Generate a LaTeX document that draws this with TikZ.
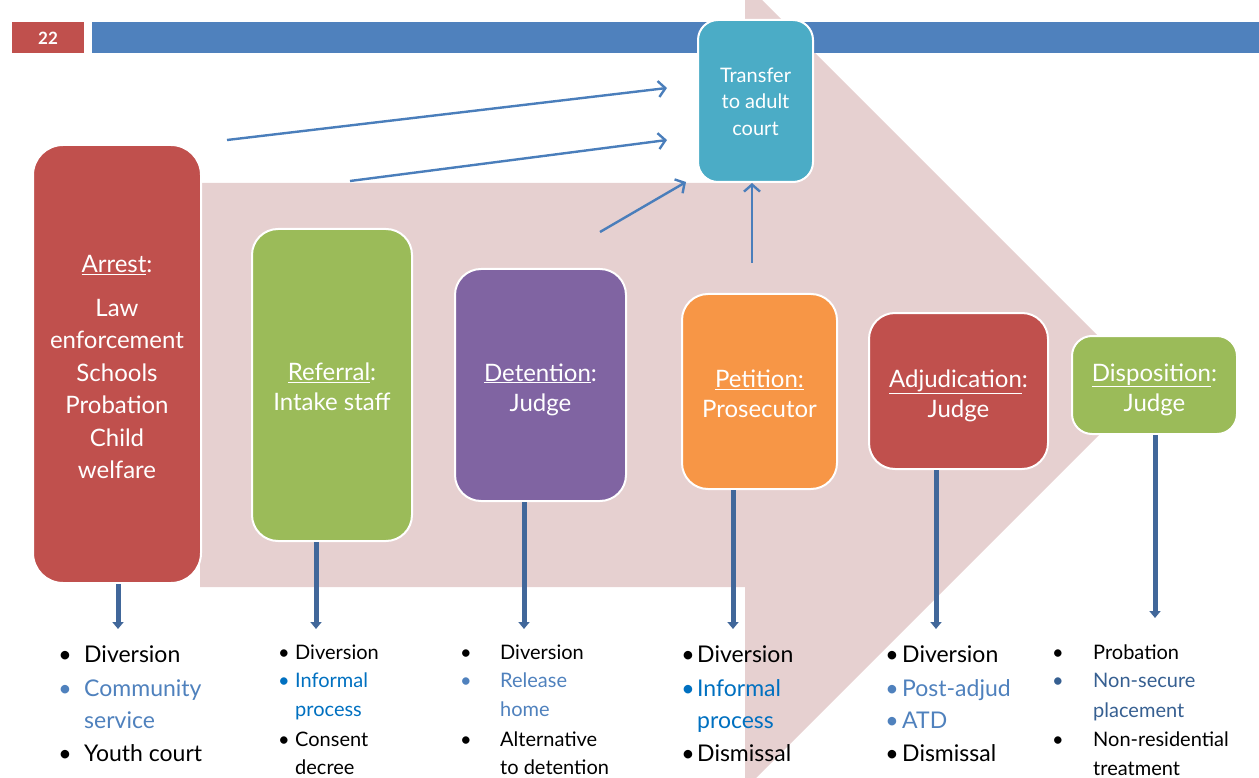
\documentclass[tikz,border=0pt]{standalone}
\usepackage{fontspec}
\setmainfont{Lato}
\usetikzlibrary{arrows.meta}
\definecolor{pinkbg}{RGB}{230,208,208}
\definecolor{redbox}{RGB}{192,80,77}
\definecolor{greenbox}{RGB}{155,187,89}
\definecolor{purplebox}{RGB}{128,100,162}
\definecolor{orangebox}{RGB}{247,150,70}
\definecolor{tealbox}{RGB}{75,172,198}
\definecolor{barblue}{RGB}{79,129,189}
\definecolor{linkblue}{RGB}{74,126,187}
\definecolor{downblue}{RGB}{65,103,154}
\definecolor{lightblue}{RGB}{79,129,189}
\definecolor{brightblue}{RGB}{0,112,192}
\definecolor{darkblue}{RGB}{54,95,145}
\begin{document}
\begin{tikzpicture}[x=1pt,y=-1pt,
  stage/.style={draw=white, line width=2pt, rounded corners=26pt, inner sep=0pt},
  stagetext/.style={text=white, inner sep=0pt, align=center, font=\fontsize{24}{30}\selectfont},
  toT/.style={linkblue, line width=2.4pt, -{Straight Barb[length=7pt,width=16pt]}},
  down/.style={downblue, line width=5pt, -{Triangle[length=7pt,width=11pt]}},
  big/.style={anchor=mid west, inner sep=0pt, font=\fontsize{23}{23}\selectfont},
  small/.style={anchor=mid west, inner sep=0pt, font=\fontsize{20}{20}\selectfont},
  bigb/.style={anchor=mid, inner sep=0pt, font=\fontsize{23}{23}\selectfont},
  smallb/.style={anchor=mid, inner sep=0pt, font=\fontsize{20}{20}\selectfont}
]
\useasboundingbox (0,0) rectangle (1259,778);
\begin{scope}
\clip (0,0) rectangle (1259,778);
% big pink process arrow
\fill[pinkbg] (200,183) -- (745,183) -- (745,-17) -- (1148,386) -- (745,789)
  -- (745,587) -- (200,587) -- cycle;
\end{scope}
% header
\fill[redbox] (12,22) rectangle (84,53);
\node[text=white, font=\bfseries\fontsize{17}{17}\selectfont] (num) at (48,38) {22};
\fill[barblue] (92,22) rectangle (1259,53);

% stage boxes
\node[stage, fill=redbox, minimum width=168pt, minimum height=438pt, rounded corners=30pt] (arrest) at (117,364) {};
\node[stagetext, font=\fontsize{24}{32.5}\selectfont] (arrest-t) at (117,367)
  {\underline{Arrest}:\\[11pt]Law\\enforcement\\Schools\\Probation\\Child\\welfare};
\node[stage, fill=greenbox, minimum width=160pt, minimum height=312pt] (referral) at (332,385) {};
\node[stagetext] (referral-t) at (332,387) {\underline{Referral}:\\Intake staff};
\node[stage, fill=purplebox, minimum width=171pt, minimum height=232pt] (detention) at (540.5,385) {};
\node[stagetext] (detention-t) at (540.5,389.5) {\underline{Detention}:\\Judge};
\node[stage, fill=orangebox, minimum width=155pt, minimum height=195pt] (petition) at (759.5,391.5) {};
\node[stagetext] (petition-t) at (759.5,393.5) {\underline{Petition:}\\Prosecutor};
\node[stage, fill=redbox, minimum width=179pt, minimum height=156pt] (adjud) at (958.5,391) {};
\node[stagetext] (adjud-t) at (958.5,396) {\underline{Adjudication}:\\Judge};
\node[stage, fill=greenbox, minimum width=165pt, minimum height=98pt, rounded corners=20pt] (dispo) at (1154.5,385) {};
\node[stagetext] (dispo-t) at (1154.5,389.5) {\underline{Disposition}:\\Judge};
\node[stage, fill=tealbox, minimum width=115pt, minimum height=162pt, rounded corners=20pt] (transfer) at (755.5,101) {};
\node[stagetext, font=\fontsize{20}{26.5}\selectfont] (transfer-t) at (755.5,101.5)
  {Transfer\\to adult\\court};

% arrows to transfer
\coordinate (s1) at (227,140); \coordinate (e1) at (667,88);
\coordinate (s2) at (350,181); \coordinate (e2) at (667,140);
\coordinate (s3) at (600,232); \coordinate (e3) at (686,182);
\coordinate (s4) at (752,263);
\draw[toT] (s1) -- (e1);
\draw[toT] (s2) -- (e2);
\draw[toT] (s3) -- (e3);
\draw[toT] (s4) -- (transfer.south -| s4);

% downward arrows
\coordinate (d1) at (118,629);
\coordinate (d2) at (316,629);
\coordinate (d3) at (524,629);
\coordinate (d4) at (733,629);
\coordinate (d5) at (936,629);
\coordinate (d6) at (1155,618);
\draw[down] (arrest.south -| d1) -- (d1);
\draw[down] (referral.south -| d2) -- (d2);
\draw[down] (detention.south -| d3) -- (d3);
\draw[down] (petition.south -| d4) -- (d4);
\draw[down] (adjud.south -| d5) -- (d5);
\draw[down] (dispo.south -| d6) -- (d6);

% column 1
\node[bigb] (b1a) at (65,660) {\textbullet};
\node[bigb, text=lightblue] (b1b) at (65,694) {\textbullet};
\node[bigb] (b1c) at (65,759) {\textbullet};
\node[big] (t1a) at (84,660) {Diversion};
\node[big, text=lightblue] (t1b) at (84,694) {Community};
\node[big, text=lightblue] (t1c) at (84,726) {service};
\node[big] (t1d) at (84,759) {Youth court};

% column 2
\node[smallb] (b2a) at (284,657) {\textbullet};
\node[smallb, text=brightblue] (b2b) at (284,685) {\textbullet};
\node[smallb] (b2c) at (284,744) {\textbullet};
\node[small] (t2a) at (295,657) {Diversion};
\node[small, text=brightblue] (t2b) at (295,685) {Informal};
\node[small, text=brightblue] (t2c) at (295,714) {process};
\node[small] (t2d) at (295,744) {Consent};
\node[small] (t2e) at (295,772) {decree};

% column 3
\node[smallb] (b3a) at (466,657) {\textbullet};
\node[smallb, text=lightblue] (b3b) at (466,685) {\textbullet};
\node[smallb] (b3c) at (466,744) {\textbullet};
\node[small] (t3a) at (500,657) {Diversion};
\node[small, text=lightblue] (t3b) at (500,685) {Release};
\node[small, text=lightblue] (t3c) at (500,714) {home};
\node[small] (t3d) at (500,744) {Alternative};
\node[small] (t3e) at (500,772) {to detention};

% column 4
\node[bigb] (b4a) at (688,660) {\textbullet};
\node[bigb, text=brightblue] (b4b) at (688,694) {\textbullet};
\node[bigb] (b4c) at (688,759) {\textbullet};
\node[big] (t4a) at (697,660) {Diversion};
\node[big, text=brightblue] (t4b) at (697,694) {Informal};
\node[big, text=brightblue] (t4c) at (697,726) {process};
\node[big] (t4d) at (697,759) {Dismissal};

% column 5
\node[bigb] (b5a) at (892,660) {\textbullet};
\node[bigb, text=lightblue] (b5b) at (892,694) {\textbullet};
\node[bigb, text=lightblue] (b5c) at (892,726) {\textbullet};
\node[bigb] (b5d) at (892,759) {\textbullet};
\node[big] (t5a) at (902,660) {Diversion};
\node[big, text=lightblue] (t5b) at (902,694) {Post-adjud};
\node[big, text=lightblue] (t5c) at (902,726) {ATD};
\node[big] (t5d) at (902,759) {Dismissal};

% column 6
\node[smallb] (b6a) at (1058,657) {\textbullet};
\node[smallb, text=darkblue] (b6b) at (1058,685) {\textbullet};
\node[smallb] (b6c) at (1058,744) {\textbullet};
\node[small] (t6a) at (1093,657) {Probation};
\node[small, text=darkblue] (t6b) at (1093,685) {Non-secure};
\node[small, text=darkblue] (t6c) at (1093,715) {placement};
\node[small] (t6d) at (1093,744) {Non-residential};
\node[small] (t6e) at (1093,773) {treatment};
\end{tikzpicture}
\end{document}
